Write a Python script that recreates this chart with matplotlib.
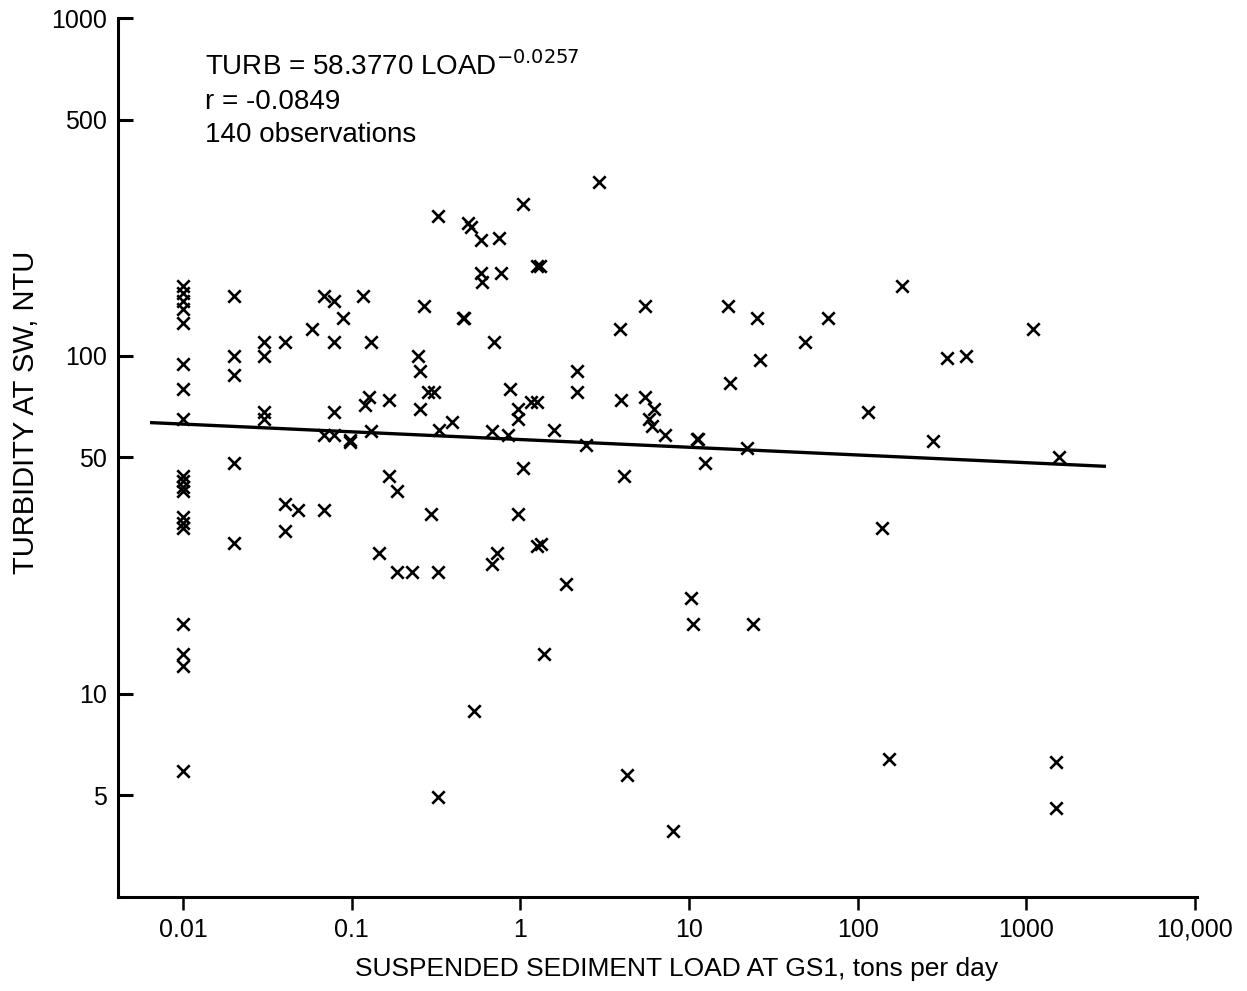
import matplotlib
matplotlib.use("Agg")
import matplotlib.pyplot as plt
import numpy as np

plt.rcParams['font.family'] = ['Liberation Sans', 'DejaVu Sans']

# suspended sediment load at GS1 (tons/day) and turbidity at SW (NTU)
load = [
    0.01, 0.01, 0.01, 0.01, 0.01, 0.01, 0.01, 0.01, 0.01, 0.01,
    0.01, 0.01, 0.01, 0.01, 0.01, 0.01, 0.01, 0.01, 0.01,
    0.02, 0.02, 0.02, 0.02, 0.02,
    0.03, 0.03, 0.03, 0.03,
    0.04, 0.04, 0.04,
    0.048, 0.058,
    0.068, 0.068, 0.068,
    0.078, 0.078, 0.078, 0.078,
    0.088, 0.097, 0.097,
    0.117, 0.119, 0.127, 0.129, 0.129,
    0.144, 0.165, 0.165, 0.186, 0.186, 0.226,
    0.248, 0.255, 0.255, 0.269, 0.281, 0.305, 0.296,
    0.326, 0.326, 0.33, 0.326,
    0.395, 0.453, 0.46, 0.491, 0.512, 0.533,
    0.587, 0.587, 0.59,
    0.682, 0.682, 0.701, 0.721,
    0.75, 0.771, 0.861, 0.838,
    0.96, 0.96, 0.96, 1.03, 1.03,
    1.16, 1.26, 1.26, 1.3, 1.26, 1.33,
    1.37, 1.57, 1.87, 2.15, 2.15, 2.43, 2.94,
    3.87, 3.95, 4.1, 4.26,
    5.45, 5.45, 6.2, 5.8, 6.0,
    7.16, 7.98, 10.3, 10.6, 11.1, 11.3, 12.5,
    16.9, 17.4, 21.9, 23.8, 25.2, 26.2,
    48.4, 66.4, 115, 139, 153, 182,
    279, 338, 438, 1094, 1496, 1496, 1560,
]
turb = [
    161, 153, 145, 138, 125, 94.7, 80, 65, 44, 42.5,
    41, 39.8, 33.3, 31.9, 31, 16.1, 13.1, 12.1, 5.9,
    150, 100, 88, 48, 28,
    110, 100, 68, 65,
    110, 36.3, 30.2,
    35, 120,
    150, 58.2, 35,
    145, 110, 68, 58.2,
    129, 55.6, 56.2,
    150, 71.4, 75.5, 110, 59.7,
    26.1, 74.2, 44.1, 39.8, 22.9, 22.9,
    100, 90.3, 69.8, 140, 78.3, 78.3, 34.1,
    259, 22.9, 60.3, 4.93,
    63.9, 129, 129, 248, 240, 8.9,
    220, 176, 165,
    59.7, 24.2, 110, 26.1,
    224, 176, 80, 58.2,
    69.8, 65, 34.1, 281, 46.4,
    73.2, 73.2, 185, 185, 27.3, 27.7,
    13.1, 60.3, 21.1, 90.3, 78.3, 54.3, 328,
    120, 74.2, 44.1, 5.73,
    140, 75.5, 69.8, 65, 61.8,
    58.2, 3.92, 19.2, 16.1, 56.9, 56.9, 48,
    140, 83.2, 53.2, 16.1, 129, 97.3,
    110, 129, 68.1, 31, 6.4, 161,
    56.1, 98.6, 100, 120, 6.26, 4.58, 50,
]

# fitted line endpoints as drawn
fit_load = [0.0065, 2900]
fit_turb = [63.4, 47.1]

xticks = [0.01, 0.1, 1, 10, 100, 1000, 10000]
xticklabels = ['0.01', '0.1', '1', '10', '100', '1000', '10,000']
yticks = [5, 10, 50, 100, 500, 1000]
yticklabels = ['5', '10', '50', '100', '500', '1000']

fig = plt.figure(figsize=(12.47, 9.91), dpi=100)
ax = fig.add_axes([0.0946, 0.0949, 0.8654, 0.8869])

ax.scatter(load, turb, marker='x', s=80, c='black', linewidths=1.9, zorder=3)
ax.plot(fit_load, fit_turb, color='black', lw=2.4, zorder=2)

ax.set_xscale('log')
ax.set_yscale('log')
ax.set_xlim(0.0041, 10300)
ax.set_ylim(2.5, 1000)

ax.set_xticks(xticks)
ax.set_xticklabels(xticklabels)
ax.set_yticks(yticks)
ax.set_yticklabels(yticklabels)
ax.minorticks_off()

ax.tick_params(axis='x', direction='out', length=9, width=1.8, pad=6, labelsize=18)
ax.tick_params(axis='y', direction='in', length=11, width=2.2, pad=8, labelsize=18)

for side in ['top', 'right']:
    ax.spines[side].set_visible(False)
for side in ['left', 'bottom']:
    ax.spines[side].set_linewidth(2.2)

ax.set_xlabel('SUSPENDED SEDIMENT LOAD AT GS1, tons per day', fontsize=19)
ax.xaxis.set_label_coords(0.518, -0.068)
ax.set_ylabel('TURBIDITY AT SW, NTU', fontsize=21)
ax.yaxis.set_label_coords(-0.072, 0.551)

ax.text(0.081, 0.935, r'TURB = 58.3770 LOAD$^{-0.0257}$', transform=ax.transAxes,
        fontsize=20, va='baseline', ha='left')
ax.text(0.081, 0.897, 'r = -0.0849', transform=ax.transAxes,
        fontsize=20, va='baseline', ha='left')
ax.text(0.081, 0.859, '140 observations', transform=ax.transAxes,
        fontsize=20, va='baseline', ha='left')

fig.savefig('out.png', dpi=100)
